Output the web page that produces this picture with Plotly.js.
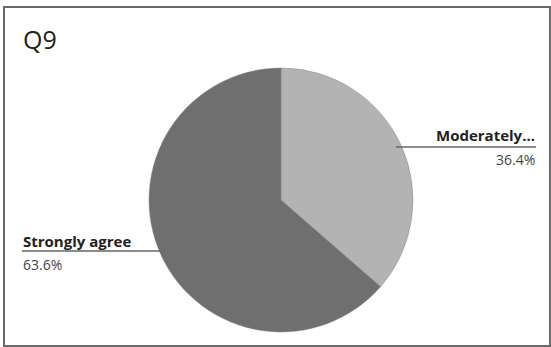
<!DOCTYPE html>
<html><head><meta charset="utf-8">
<script src="https://cdn.plot.ly/plotly-3.0.1.min.js"></script>
<style>html,body{margin:0;padding:0;background:#fff}#chart{width:551px;height:347px}</style>
</head><body><div id="chart"></div>
<script>
const categories = ["Moderately...", "Strongly agree"];
const values = [36.4, 63.6];
const percentLabels = ["36.4%", "63.6%"];
const sliceColors = ["#b3b3b3", "#6f6f6f"];

const W = 551, H = 347;
const px = x => x / W, py = y => 1 - y / H;

const trace = {
  type: 'pie',
  labels: categories,
  values: values,
  sort: false,
  direction: 'clockwise',
  rotation: 0,
  textinfo: 'none',
  hoverinfo: 'label+percent',
  marker: {colors: sliceColors, line: {color: '#8a8a8a', width: 0.5}},
  domain: {x: [px(149), px(413)], y: [py(333), py(67)]},
  showlegend: false
};

const FAM = '"Open Sans", sans-serif';
const labelFont = {family: FAM, size: 15, color: '#222'};
const pctFont = {family: FAM, size: 14, color: '#444'};

const annotations = [
  {text: 'Q9', x: px(21), y: py(39), xref: 'paper', yref: 'paper', xanchor: 'left', yanchor: 'middle', showarrow: false,
   font: {family: FAM, size: 25, color: '#222'}},
  {text: '<b>' + categories[0] + '</b>', x: px(537), y: py(135), xref: 'paper', yref: 'paper', xanchor: 'right', yanchor: 'middle', showarrow: false, font: labelFont},
  {text: percentLabels[0], x: px(537), y: py(159), xref: 'paper', yref: 'paper', xanchor: 'right', yanchor: 'middle', showarrow: false, font: pctFont},
  {text: '<b>' + categories[1] + '</b>', x: px(21), y: py(241), xref: 'paper', yref: 'paper', xanchor: 'left', yanchor: 'middle', showarrow: false, font: labelFont},
  {text: percentLabels[1], x: px(21), y: py(264), xref: 'paper', yref: 'paper', xanchor: 'left', yanchor: 'middle', showarrow: false, font: pctFont}
];

const shapes = [
  {type: 'rect', xref: 'paper', yref: 'paper', x0: px(4), x1: px(550), y0: py(346), y1: py(7), line: {color: '#6a6a6a', width: 2}},
  {type: 'line', xref: 'paper', yref: 'paper', x0: px(396), x1: px(536), y0: py(147), y1: py(147), line: {color: '#666', width: 1.5}},
  {type: 'line', xref: 'paper', yref: 'paper', x0: px(22), x1: px(164), y0: py(251), y1: py(251), line: {color: '#666', width: 1.5}}
];

Plotly.newPlot('chart', [trace], {
  width: W, height: H,
  margin: {l: 0, r: 0, t: 0, b: 0},
  paper_bgcolor: '#fff',
  annotations: annotations,
  shapes: shapes
}, {displayModeBar: false, staticPlot: true});
</script></body></html>
